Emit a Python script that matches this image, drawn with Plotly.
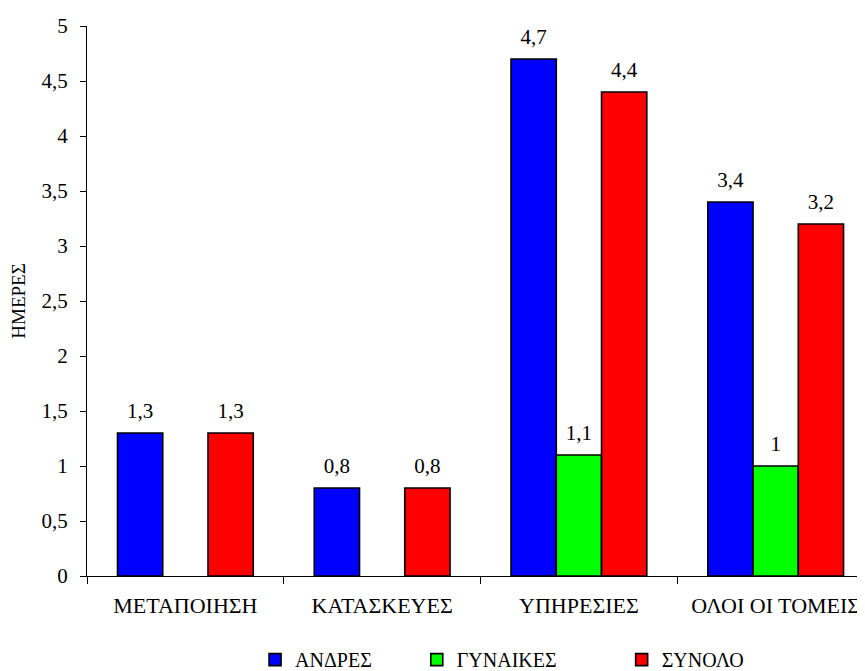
import plotly.graph_objects as go

categories = ["ΜΕΤΑΠΟΙΗΣΗ", "ΚΑΤΑΣΚΕΥΕΣ", "ΥΠΗΡΕΣΙΕΣ", "ΟΛΟΙ ΟΙ ΤΟΜΕΙΣ"]
andres = [1.3, 0.8, 4.7, 3.4]
gynaikes = [None, None, 1.1, 1.0]
synolo = [1.3, 0.8, 4.4, 3.2]
series_names = ["ΑΝΔΡΕΣ", "ΓΥΝΑΙΚΕΣ", "ΣΥΝΟΛΟ"]
series_colors = ["#0000FF", "#00FF00", "#FF0000"]
y_ticks = [0, 0.5, 1, 1.5, 2, 2.5, 3, 3.5, 4, 4.5, 5]

FONT = "Liberation Serif"
NBSP = "\u00a0"
legend_pad = [8, 12, 10]

fig = go.Figure()
for i, (name, vals, col) in enumerate(zip(series_names, [andres, gynaikes, synolo], series_colors)):
    grp = "g%d" % i
    fig.add_trace(go.Bar(
        x=categories, y=vals, name=name + NBSP * legend_pad[i],
        offsetgroup=grp,
        marker=dict(color=col, line=dict(color="black", width=1.6)),
        hoverinfo="skip",
    ))
    fig.add_trace(go.Scatter(
        x=categories, y=vals, mode="markers+text", offsetgroup=grp,
        texttemplate="%{y}", textposition="top center",
        textfont=dict(family=FONT, size=21, color="black"),
        marker=dict(size=14, opacity=0),
        showlegend=False, cliponaxis=False, hoverinfo="skip",
    ))

fig.update_layout(
    width=857, height=663,
    margin=dict(l=79, r=0, t=18, b=95, autoexpand=False),
    paper_bgcolor="white", plot_bgcolor="white",
    font=dict(family=FONT, size=20, color="black"),
    separators=",.",
    barmode="group", bargap=0.31, bargroupgap=0,
    scattermode="group", scattergap=0.31,
    showlegend=True,
    legend=dict(orientation="h", x=0.216, xanchor="left", y=-0.152, yanchor="middle",
                font=dict(family=FONT, size=20), traceorder="normal"),
)
fig.update_xaxes(
    range=[-0.5, 3.454], showline=True, linecolor="black", linewidth=1,
    ticks="outside", tickson="boundaries", ticklen=7, tickcolor="black",
    ticklabelstandoff=10, showgrid=False, zeroline=False,
    tickfont=dict(family=FONT, size=22),
)
fig.update_yaxes(
    range=[0, 5], tickvals=y_ticks, showline=True, linecolor="black", linewidth=1,
    ticks="outside", ticklen=6, tickcolor="black", ticklabelstandoff=8,
    showgrid=False, zeroline=False, tickfont=dict(family=FONT, size=21),
    title=dict(text="ΗΜΕΡΕΣ", font=dict(family=FONT, size=19), standoff=11),
)

fig.write_html("out.html")
